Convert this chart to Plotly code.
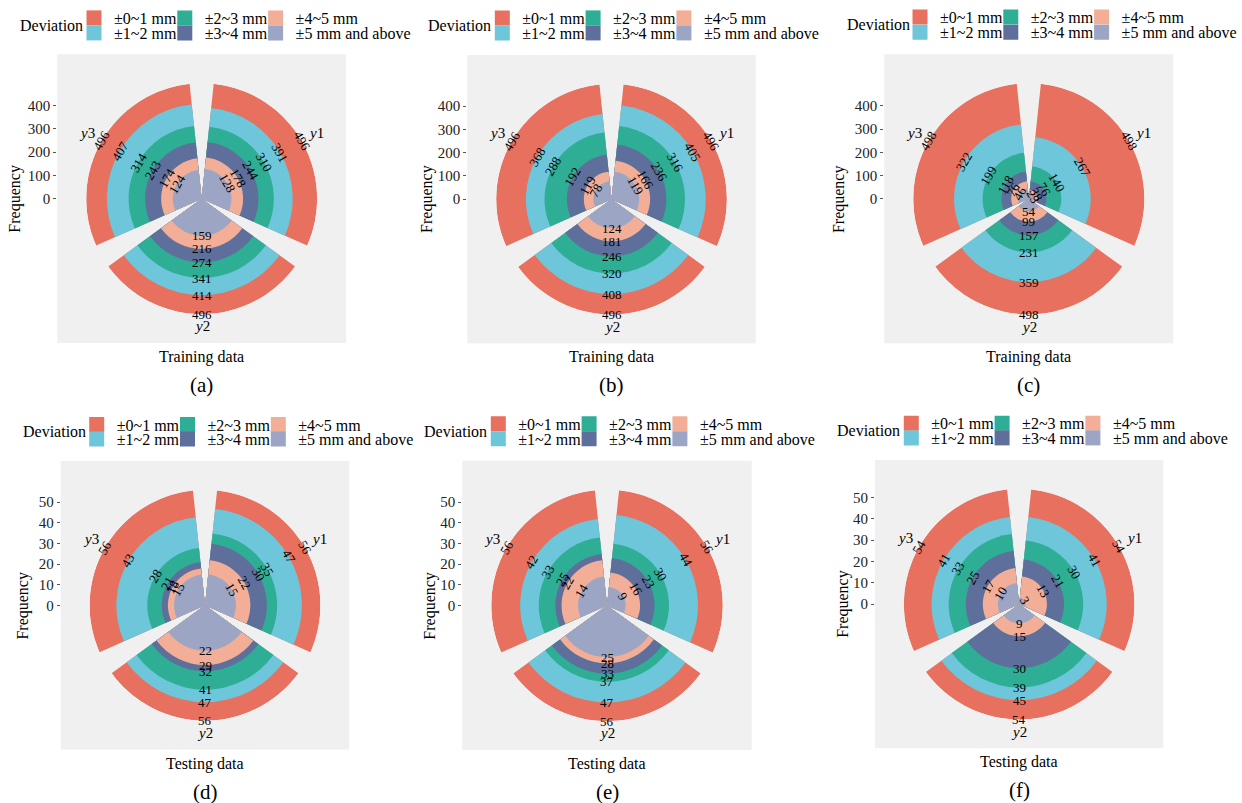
import numpy as np
import plotly.graph_objects as go

W, H = 1242, 803
FONT = "Liberation Serif"

# Sectors and deviation bands
outputs = ["y1", "y2", "y3"]
band_labels = ["±0~1 mm", "±1~2 mm", "±2~3 mm", "±3~4 mm", "±4~5 mm", "±5 mm and above"]
band_colors = ["#E8705F", "#6DC6D9", "#2FAE96", "#5E6F9C", "#F3AE97", "#9CA5C3"]

# Frequencies per band (±0~1 ... ±5 and above) for each output
a_y1 = [496, 391, 310, 244, 178, 128]
a_y2 = [496, 414, 341, 274, 216, 159]
a_y3 = [496, 407, 314, 243, 174, 124]

b_y1 = [496, 405, 316, 236, 166, 119]
b_y2 = [496, 408, 320, 246, 181, 124]
b_y3 = [496, 368, 288, 192, 119, 78]

c_y1 = [498, 267, 140, 76, 38, 23]
c_y2 = [498, 359, 231, 157, 99, 54]
c_y3 = [498, 322, 199, 118, 76, 46]

d_y1 = [56, 47, 35, 30, 22, 15]
d_y2 = [56, 47, 41, 32, 29, 22]
d_y3 = [56, 43, 28, 21, 18, 15]

e_y1 = [56, 44, 30, 23, 16, 9]
e_y2 = [56, 47, 37, 33, 28, 25]
e_y3 = [56, 42, 33, 25, 22, 14]

f_y1 = [54, 41, 30, 21, 13, 3]
f_y2 = [54, 45, 39, 30, 15, 9]
f_y3 = [54, 41, 33, 25, 17, 10]

train_ticks = [0, 100, 200, 300, 400]
test_ticks = [0, 10, 20, 30, 40, 50]

# Sector centres (clockwise from 12 o'clock) and bar width
theta_centres = [60, 180, 300]
bar_width = 108
label_angles = [60, 0, -60]

# Legend key grid: 2 rows x 3 columns, band index per (row, column)
key_grid = [[0, 2, 4], [1, 3, 5]]
key_step = 90.8

# Page geometry of each panel (pixels)
panels = [
    dict(data=(a_y1, a_y2, a_y3), ticks=train_ticks, xlabel="Training data", tag="(a)",
         left=57.3, top=54.3, size=288.7, key_x=90.0, rows=(18.0, 33.0), dev_x=18.3,
         freq_x=15.0),
    dict(data=(b_y1, b_y2, b_y3), ticks=train_ticks, xlabel="Training data", tag="(b)",
         left=467.3, top=55.0, size=288.4, key_x=498.3, rows=(18.0, 33.0), dev_x=425.7,
         freq_x=426.7),
    dict(data=(c_y1, c_y2, c_y3), ticks=train_ticks, xlabel="Training data", tag="(c)",
         left=884.3, top=54.3, size=289.0, key_x=916.0, rows=(17.2, 32.3), dev_x=845.0,
         freq_x=838.3),
    dict(data=(d_y1, d_y2, d_y3), ticks=test_ticks, xlabel="Testing data", tag="(d)",
         left=60.7, top=461.0, size=288.6, key_x=92.7, rows=(424.5, 439.2), dev_x=20.7,
         freq_x=23.3),
    dict(data=(e_y1, e_y2, e_y3), ticks=test_ticks, xlabel="Testing data", tag="(e)",
         left=462.3, top=460.7, size=289.4, key_x=494.3, rows=(423.8, 438.8), dev_x=421.7,
         freq_x=430.3),
    dict(data=(f_y1, f_y2, f_y3), ticks=test_ticks, xlabel="Testing data", tag="(f)",
         left=875.0, top=460.0, size=288.3, key_x=907.3, rows=(423.3, 438.0), dev_x=835.0,
         freq_x=842.7),
]


def fx(px):
    return px / W


def fy(py):
    return 1 - py / H


fig = go.Figure()
layout = dict(
    width=W, height=H, autosize=False,
    margin=dict(l=0, r=0, t=0, b=0),
    paper_bgcolor="white", plot_bgcolor="#F0F0F0",
    font=dict(family=FONT, color="black", size=16),
    showlegend=True,
)
annotations = []
legend_count = 0

for i, p in enumerate(panels):
    s = "" if i == 0 else str(i + 1)
    L, T, S = p["left"], p["top"], p["size"]
    cx, cy = L + S / 2, T + S / 2
    rmax = max(max(v) for v in p["data"])
    lim = 1.25 * rmax

    # Cartesian frame: grey panel, frequency axis and label positions
    layout[f"xaxis{s}"] = dict(
        domain=[fx(L), fx(L + S)], range=[-lim, lim], anchor=f"y{s}",
        showticklabels=False, ticks="", showline=False, showgrid=False,
        zeroline=False, fixedrange=True,
    )
    layout[f"yaxis{s}"] = dict(
        domain=[fy(T + S), fy(T)], range=[-lim, lim], anchor=f"x{s}",
        tickvals=p["ticks"], ticks="outside", ticklen=3, tickwidth=1,
        tickcolor="#555555", tickfont=dict(size=15, color="#222222", family=FONT),
        showline=False, showgrid=False, zeroline=False, fixedrange=True,
    )

    # Polar subplot holding the overlaid sector bars
    rp = 0.4 * S
    layout[f"polar{s}"] = dict(
        domain=dict(x=[fx(cx - rp), fx(cx + rp)], y=[fy(cy + rp), fy(cy - rp)]),
        bgcolor="rgba(0,0,0,0)", barmode="overlay", hole=0,
        radialaxis=dict(range=[0, rmax], showline=False, showticklabels=False,
                        showgrid=False, ticks=""),
        angularaxis=dict(direction="clockwise", rotation=90, showline=False,
                         showticklabels=False, showgrid=False, ticks=""),
    )

    for j, (lab, col) in enumerate(zip(band_labels, band_colors)):
        r_vals = [p["data"][k][j] for k in range(3)]
        fig.add_trace(go.Barpolar(
            r=r_vals, theta=theta_centres, width=[bar_width] * 3,
            marker=dict(color=col, line=dict(width=0)),
            subplot=f"polar{s}", name=lab, showlegend=False, hoverinfo="r+name",
        ))
        # value labels at the end of each bar
        for k in range(3):
            v = p["data"][k][j]
            th = np.deg2rad(theta_centres[k])
            annotations.append(dict(
                x=v * np.sin(th), y=v * np.cos(th), xref=f"x{s}", yref=f"y{s}",
                text=str(v), textangle=label_angles[k], showarrow=False,
                font=dict(size=13, color="black", family=FONT),
                xanchor="center", yanchor="middle",
            ))

    # sector names
    for k, name in enumerate(outputs):
        th = np.deg2rad(theta_centres[k])
        rr = rmax * (1.105 if k == 1 else 1.145)
        annotations.append(dict(
            x=rr * np.sin(th), y=rr * np.cos(th), xref=f"x{s}", yref=f"y{s}",
            text=f"<i>{name[0]}</i>{name[1:]}", showarrow=False,
            font=dict(size=15, color="black", family=FONT),
            xanchor="center", yanchor="middle",
        ))

    # legend keys: one single-entry legend per grid cell
    for row, ypx in enumerate(p["rows"]):
        for col, j in enumerate(key_grid[row]):
            legend_count += 1
            leg_id = "legend" if legend_count == 1 else f"legend{legend_count}"
            fig.add_trace(go.Scatter(
                x=[None], y=[None], xaxis=f"x{s}", yaxis=f"y{s}", mode="markers",
                marker=dict(symbol="square", size=15, color=band_colors[j],
                            line=dict(width=0)),
                name=band_labels[j], legend=leg_id, showlegend=True, hoverinfo="skip",
            ))
            layout[leg_id] = dict(
                orientation="h", x=fx(p["key_x"] + col * key_step - 16.0), xanchor="left",
                y=fy(ypx), yanchor="middle", bgcolor="rgba(0,0,0,0)", borderwidth=0,
                font=dict(size=16, color="black", family=FONT),
                itemclick=False, itemdoubleclick=False,
            )

    annotations.append(dict(
        x=fx(p["dev_x"]), y=fy((p["rows"][0] + p["rows"][1]) / 2), xref="paper", yref="paper",
        text="Deviation", showarrow=False, xanchor="left", yanchor="middle",
        font=dict(size=16, color="black", family=FONT),
    ))
    annotations.append(dict(
        x=fx(p["freq_x"]), y=fy(cy), xref="paper", yref="paper", text="Frequency",
        textangle=-90, showarrow=False, xanchor="center", yanchor="middle",
        font=dict(size=16, color="black", family=FONT),
    ))
    annotations.append(dict(
        x=fx(cx), y=fy(T + S + 14), xref="paper", yref="paper", text=p["xlabel"],
        showarrow=False, xanchor="center", yanchor="middle",
        font=dict(size=16, color="black", family=FONT),
    ))
    annotations.append(dict(
        x=fx(cx), y=fy(T + S + 42), xref="paper", yref="paper", text=p["tag"],
        showarrow=False, xanchor="center", yanchor="middle",
        font=dict(size=21, color="black", family=FONT),
    ))

layout["annotations"] = annotations
fig.update_layout(**layout)
fig.write_html("out.html")
